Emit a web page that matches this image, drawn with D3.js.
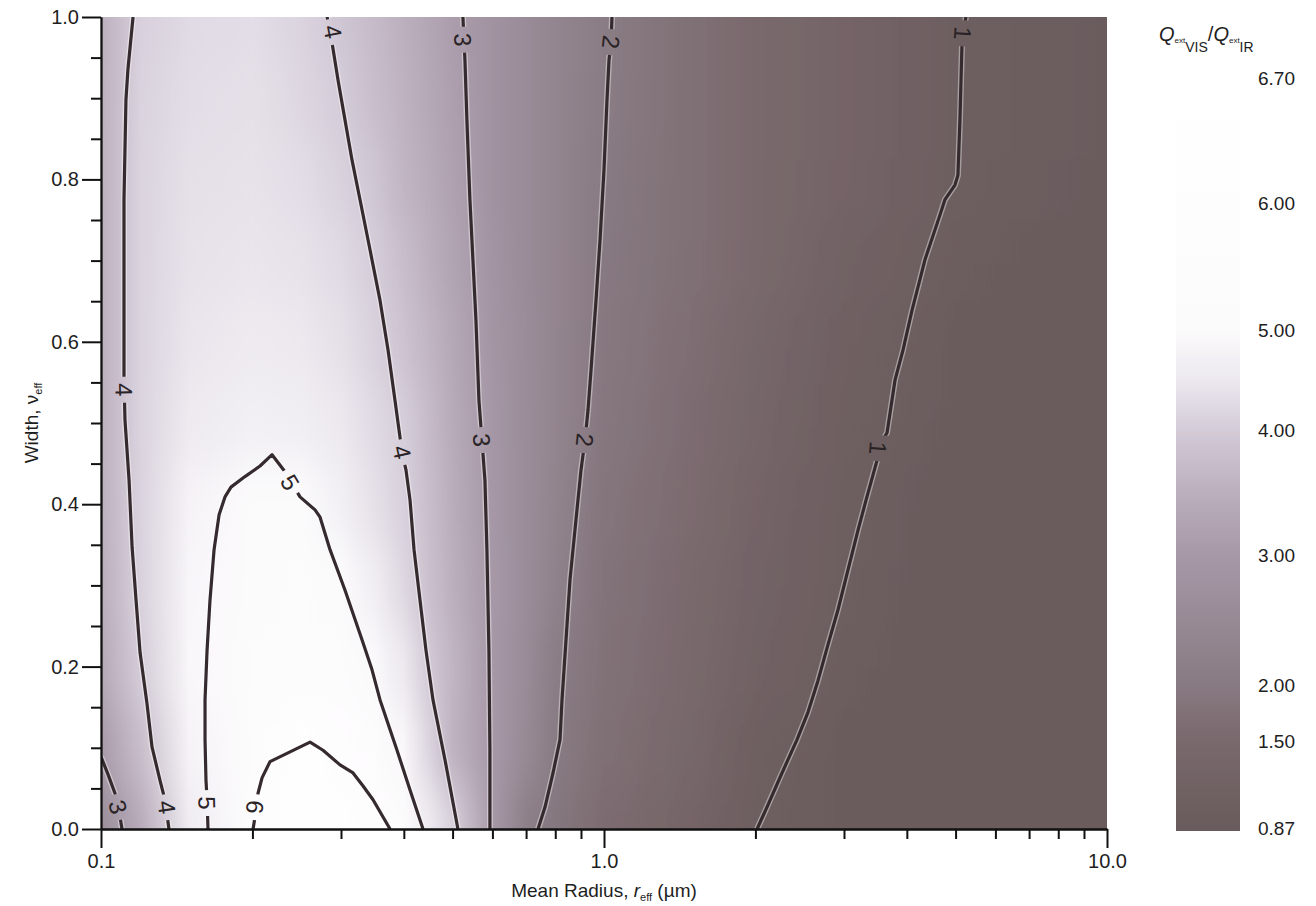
<!DOCTYPE html>
<html>
<head>
<meta charset="utf-8">
<script src="https://cdn.jsdelivr.net/npm/d3@7"></script>
<style>
  html, body { margin: 0; padding: 0; background: #ffffff; }
  svg { display: block; }
  text { font-family: "Liberation Sans", Arial, Helvetica, sans-serif; fill: #1e1e1e; }
</style>
</head>
<body>
<svg id="chart" width="1316" height="906"></svg>
<script>
// ---- Extinction ratio Q_ext(VIS)/Q_ext(IR) over effective radius and width ----

// Grid of the shaded field: rows are widths (v_eff), columns are radii (µm)
const rowV = [0, 0.1, 0.2, 0.3, 0.4, 0.5, 0.6, 0.7, 0.8, 0.9, 1.0];
const colR = [0.1, 0.12, 0.15, 0.2, 0.25, 0.3, 0.35, 0.4, 0.45, 0.5, 0.6, 0.7, 0.8, 1.0, 1.5, 2, 3, 5, 10];
const ratioGrid = [
  [2.6, 3.4, 4.6, 5.8, 6.3, 6.3, 6.0, 5.5, 4.55, 4.1, 3.0, 2.15, 1.9, 1.6, 1.3, 1.0, 0.92, 0.88, 0.87],
  [3.05, 3.75, 4.8, 5.6, 6.15, 5.95, 5.4, 4.9, 4.15, 3.55, 3.0, 2.5, 2.02, 1.7, 1.4, 1.05, 0.93, 0.88, 0.87],
  [3.35, 4.02, 4.9, 5.35, 5.5, 5.3, 4.95, 4.5, 3.95, 3.6, 3.0, 2.55, 2.1, 1.75, 1.45, 1.2, 0.96, 0.88, 0.87],
  [3.45, 4.1, 4.87, 5.2, 5.25, 5.05, 4.65, 4.2, 3.8, 3.5, 3.0, 2.6, 2.25, 1.8, 1.5, 1.25, 0.99, 0.88, 0.87],
  [3.5, 4.12, 4.8, 5.1, 5.0, 4.7, 4.35, 4.08, 3.75, 3.45, 2.95, 2.6, 2.3, 1.85, 1.55, 1.3, 1.02, 0.88, 0.87],
  [3.5, 4.15, 4.55, 4.7, 4.65, 4.5, 4.25, 4.03, 3.7, 3.4, 2.95, 2.6, 2.35, 1.92, 1.6, 1.35, 1.05, 0.9, 0.87],
  [3.5, 4.15, 4.45, 4.55, 4.5, 4.35, 4.1, 3.85, 3.6, 3.35, 2.9, 2.6, 2.35, 1.95, 1.65, 1.4, 1.1, 0.92, 0.88],
  [3.5, 4.15, 4.4, 4.45, 4.4, 4.25, 4.02, 3.75, 3.5, 3.25, 2.85, 2.55, 2.35, 1.97, 1.7, 1.5, 1.2, 0.95, 0.88],
  [3.5, 4.15, 4.35, 4.4, 4.3, 4.1, 3.9, 3.6, 3.4, 3.2, 2.8, 2.55, 2.35, 2.0, 1.7, 1.5, 1.3, 1.02, 0.9],
  [3.5, 4.12, 4.3, 4.35, 4.2, 4.0, 3.75, 3.55, 3.35, 3.15, 2.8, 2.55, 2.35, 2.05, 1.7, 1.5, 1.3, 1.03, 0.9],
  [3.5, 4.08, 4.25, 4.3, 4.15, 3.9, 3.7, 3.5, 3.3, 3.1, 2.8, 2.55, 2.35, 2.05, 1.7, 1.5, 1.3, 1.03, 0.9]
];

// Contour lines, [radius µm, width] pairs
const contour1 = [[5.2424,1.0],[5.1709,0.980],[5.1473,0.963],[5.1003,0.873],[5.0538,0.805],[4.9848,0.793],[4.7616,0.775],[4.6538,0.756],[4.3456,0.701],[4.0969,0.639],[3.9314,0.590],[3.7899,0.553],[3.6535,0.488],[3.5059,0.469],[3.4899,0.454],[3.3184,0.405],[3.1989,0.368],[3.0556,0.319],[2.9187,0.270],[2.7880,0.227],[2.6641,0.183],[2.5447,0.144],[2.4197,0.110],[2.2586,0.069],[2.1088,0.027],[2.0152,0]];
const contour2 = [[1.0373,1.0],[1.0326,0.969],[1.0232,0.947],[1.0138,0.898],[1.0,0.812],[0.9819,0.725],[0.9641,0.651],[0.9423,0.565],[0.9294,0.516],[0.9167,0.479],[0.9001,0.442],[0.8797,0.381],[0.8559,0.307],[0.8404,0.233],[0.8251,0.159],[0.8176,0.110],[0.7919,0.069],[0.7634,0.027],[0.7393,0]];
const contour3 = [[0.5242,1.0],[0.5291,0.947],[0.5339,0.873],[0.5413,0.775],[0.5488,0.701],[0.5564,0.627],[0.5641,0.528],[0.5719,0.479],[0.5798,0.430],[0.5851,0.344],[0.5905,0.220],[0.5932,0.097],[0.5932,0]];
const contour3Corner = [[0.1,0.089],[0.1033,0.067],[0.1066,0.044],[0.1081,0.030],[0.1101,0]];
const contour4Left = [[0.1158,1.0],[0.1131,0.935],[0.1121,0.898],[0.1111,0.775],[0.1111,0.652],[0.1111,0.553],[0.1116,0.504],[0.1137,0.430],[0.1153,0.347],[0.1174,0.282],[0.1196,0.217],[0.1234,0.155],[0.1263,0.101],[0.1310,0.060],[0.1340,0.036],[0.1365,0]];
const contour4 = [[0.2815,1.0],[0.2880,0.968],[0.2960,0.922],[0.3056,0.873],[0.3155,0.824],[0.3273,0.775],[0.3427,0.713],[0.3587,0.651],[0.3721,0.590],[0.3841,0.528],[0.3967,0.464],[0.4040,0.442],[0.4115,0.405],[0.4191,0.344],[0.4307,0.282],[0.4427,0.220],[0.4571,0.159],[0.4830,0.085],[0.5124,0]];
const contour5 = [[0.1632,0],[0.1625,0.036],[0.1617,0.060],[0.1610,0.110],[0.1610,0.159],[0.1625,0.220],[0.1647,0.282],[0.1678,0.344],[0.1717,0.387],[0.1764,0.409],[0.1813,0.421],[0.1933,0.434],[0.2071,0.447],[0.2188,0.461],[0.2322,0.440],[0.2487,0.409],[0.2664,0.393],[0.2726,0.384],[0.2853,0.344],[0.3056,0.294],[0.3303,0.233],[0.3458,0.196],[0.3587,0.159],[0.3877,0.097],[0.4115,0.048],[0.4367,0]];
const contour6 = [[0.2006,0],[0.2034,0.023],[0.2052,0.044],[0.2090,0.063],[0.2168,0.083],[0.2376,0.095],[0.2604,0.107],[0.2763,0.097],[0.2987,0.079],[0.3170,0.069],[0.3319,0.053],[0.3474,0.036],[0.3620,0.017],[0.3755,0]];

// Inline contour labels: level and position [radius, width]
const contourLabels = [
  {level: 1, r: 5.1709, v: 0.980}, {level: 1, r: 3.5059, v: 0.469},
  {level: 2, r: 1.0326, v: 0.969}, {level: 2, r: 0.9167, v: 0.479},
  {level: 3, r: 0.5242, v: 0.972}, {level: 3, r: 0.5719, v: 0.479}, {level: 3, r: 0.1081, v: 0.027},
  {level: 4, r: 0.2893, v: 0.982}, {level: 4, r: 0.3967, v: 0.464}, {level: 4, r: 0.1111, v: 0.541}, {level: 4, r: 0.1353, v: 0.027},
  {level: 5, r: 0.2376, v: 0.427}, {level: 5, r: 0.1625, v: 0.032},
  {level: 6, r: 0.2024, v: 0.027}
];

// Axis ticks
const xMajorTicks = [0.1, 1, 10];
const xMajorLabels = ["0.1", "1.0", "10.0"];
const xMinorTicks = [0.2, 0.3, 0.4, 0.5, 0.6, 0.7, 0.8, 0.9, 2, 3, 4, 5, 6, 7, 8, 9];
const yMajorTicks = [0, 0.2, 0.4, 0.6, 0.8, 1.0];
const yMinorTicks = [0.05, 0.1, 0.15, 0.25, 0.3, 0.35, 0.45, 0.5, 0.55, 0.65, 0.7, 0.75, 0.85, 0.9, 0.95];

// Colour bar labels
const barTicks = [0.87, 1.5, 2.0, 3.0, 4.0, 5.0, 6.0, 6.7];
const barTickLabels = ["0.87", "1.50", "2.00", "3.00", "4.00", "5.00", "6.00", "6.70"];

// Grey-mauve ramp of the shading
const rampValues = [0.87, 1.2, 1.5, 2.0, 2.5, 3.0, 3.5, 4.0, 4.5, 5.0, 6.7];
const rampColors = ["#6a5b5c", "#716264", "#79696d", "#887a82", "#978a95", "#a798a7", "#bbafbd", "#d4ccd8", "#ece8ef", "#fcfbfc", "#ffffff"];

// ---------------------------------------------------------------------------
const svg = d3.select("#chart");
const defs = svg.append("defs");

const x = d3.scaleLog().domain([0.1, 10]).range([101, 1107]);
const y = d3.scaleLinear().domain([0, 1]).range([829, 17]);
const color = d3.scaleLinear().domain(rampValues).range(rampColors).interpolate(d3.interpolateRgb).clamp(true);
const barY = d3.scaleLinear().domain(barTicks).range([828, 741, 685, 555, 430, 330, 203, 78]);

const plotW = x(10) - x(0.1), plotH = y(0) - y(1);

defs.append("clipPath").attr("id", "plotClip")
  .append("rect").attr("x", x(0.1)).attr("y", y(1)).attr("width", plotW).attr("height", plotH);

const blend = defs.append("filter").attr("id", "rowBlend")
  .attr("filterUnits", "userSpaceOnUse")
  .attr("x", 0).attr("y", -300).attr("width", 1316).attr("height", 1500);
blend.append("feGaussianBlur").attr("stdDeviation", "0 24");

// one horizontal gradient per grid row
rowV.forEach((v, i) => {
  const g = defs.append("linearGradient").attr("id", "row" + i)
    .attr("gradientUnits", "userSpaceOnUse")
    .attr("x1", x(0.1)).attr("x2", x(10)).attr("y1", 0).attr("y2", 0);
  colR.forEach((r, j) => {
    g.append("stop")
      .attr("offset", (x(r) - x(0.1)) / plotW)
      .attr("stop-color", color(ratioGrid[i][j]));
  });
});

// shaded field
const field = svg.append("g").attr("clip-path", "url(#plotClip)")
  .append("g").attr("filter", "url(#rowBlend)");
const half = 0.05;
rowV.forEach((v, i) => {
  const top = i === rowV.length - 1 ? y(1) - 150 : y(v + half) - 0.5;
  const bottom = i === 0 ? y(0) + 150 : y(v - half) + 0.5;
  field.append("rect")
    .attr("x", x(0.1)).attr("width", plotW)
    .attr("y", top).attr("height", bottom - top)
    .attr("fill", `url(#row${i})`);
});

// contour lines with gaps for their labels
const contourSets = [
  {level: 1, pts: contour1}, {level: 2, pts: contour2}, {level: 3, pts: contour3},
  {level: 3, pts: contour3Corner}, {level: 4, pts: contour4Left}, {level: 4, pts: contour4},
  {level: 5, pts: contour5}, {level: 6, pts: contour6}
];

function labelAngle(lab) {
  const px = x(lab.r), py = y(lab.v);
  let best = null, bestD = Infinity;
  contourSets.filter(c => c.level === lab.level).forEach(c => {
    for (let k = 0; k < c.pts.length - 1; k++) {
      const ax = x(c.pts[k][0]), ay = y(c.pts[k][1]);
      const bx = x(c.pts[k + 1][0]), by = y(c.pts[k + 1][1]);
      const mx = (ax + bx) / 2, my = (ay + by) / 2;
      const d = Math.hypot(mx - px, my - py);
      if (d < bestD) { bestD = d; best = [bx - ax, by - ay]; }
    }
  });
  let a = Math.atan2(best[1], best[0]) * 180 / Math.PI;
  if (a <= 0) a += 180;
  if (a > 180) a -= 180;
  return a;
}
contourLabels.forEach(l => { l.angle = labelAngle(l); });

const mask = defs.append("mask").attr("id", "labelGaps")
  .attr("maskUnits", "userSpaceOnUse").attr("x", 0).attr("y", 0).attr("width", 1316).attr("height", 906);
mask.append("rect").attr("x", 0).attr("y", 0).attr("width", 1316).attr("height", 906).attr("fill", "#fff");
contourLabels.forEach(l => {
  mask.append("rect")
    .attr("x", -13).attr("y", -11).attr("width", 26).attr("height", 22)
    .attr("fill", "#000")
    .attr("transform", `translate(${x(l.r)},${y(l.v)}) rotate(${l.angle})`);
});

const line = d3.line().x(d => x(d[0])).y(d => y(d[1]));
const lines = svg.append("g").attr("clip-path", "url(#plotClip)")
  .append("g").attr("mask", "url(#labelGaps)");
lines.selectAll("path.halo").data(contourSets).join("path")
  .attr("class", "halo")
  .attr("d", d => line(d.pts))
  .attr("fill", "none").attr("stroke", "#ffffff").attr("stroke-opacity", 0.4)
  .attr("stroke-width", 6).attr("stroke-linejoin", "round");
lines.selectAll("path.iso").data(contourSets).join("path")
  .attr("class", "iso")
  .attr("d", d => line(d.pts))
  .attr("fill", "none").attr("stroke", "#352a2d")
  .attr("stroke-width", 3.2).attr("stroke-linejoin", "round").attr("stroke-linecap", "butt");

svg.append("g").selectAll("text").data(contourLabels).join("text")
  .attr("transform", d => `translate(${x(d.r)},${y(d.v)}) rotate(${d.angle})`)
  .attr("text-anchor", "middle").attr("dy", "0.36em")
  .attr("font-size", 24).style("fill", "#2a2325")
  .text(d => d.level);

// axes
const axisStyle = g => {
  g.selectAll(".domain").attr("stroke", "#111").attr("stroke-width", 1.8);
  g.selectAll(".tick line").attr("stroke", "#111").attr("stroke-width", 2);
  g.selectAll(".tick text").attr("font-size", 20).style("fill", "#1e1e1e")
    .attr("font-family", "'Liberation Sans', Arial, sans-serif");
};

svg.append("g").attr("transform", `translate(0,${y(0)})`)
  .call(d3.axisBottom(x).tickValues(xMinorTicks).tickSize(10).tickSizeOuter(0).tickFormat(""))
  .call(axisStyle);
svg.append("g").attr("transform", `translate(0,${y(0)})`)
  .call(d3.axisBottom(x).tickValues(xMajorTicks).tickSize(19).tickSizeOuter(0).tickPadding(6)
    .tickFormat((d, i) => xMajorLabels[i]))
  .call(axisStyle);

svg.append("g").attr("transform", `translate(${x(0.1)},0)`)
  .call(d3.axisLeft(y).tickValues(yMinorTicks).tickSize(10).tickSizeOuter(0).tickFormat(""))
  .call(axisStyle);
svg.append("g").attr("transform", `translate(${x(0.1)},0)`)
  .call(d3.axisLeft(y).tickValues(yMajorTicks).tickSize(19).tickSizeOuter(0).tickPadding(3)
    .tickFormat(d3.format(".1f")))
  .call(axisStyle);

// axis titles
const xt = svg.append("text").attr("x", x(1)).attr("y", 897)
  .attr("text-anchor", "middle").attr("font-size", 19);
xt.append("tspan").text("Mean Radius, ");
xt.append("tspan").attr("font-style", "italic").text("r");
xt.append("tspan").attr("font-size", 11).attr("dy", 4).text("eff");
xt.append("tspan").attr("dy", -4).text(" (\u00b5m)");

const yt = svg.append("text")
  .attr("transform", `translate(38,${(y(0) + y(1)) / 2}) rotate(-90)`)
  .attr("text-anchor", "middle").attr("font-size", 19);
yt.append("tspan").text("Width, \u03bd");
yt.append("tspan").attr("font-size", 11).attr("dy", 4).text("eff");

// colour bar
const barX = 1176, barW = 64;
const barTop = barY(6.7) - 6, barBottom = barY(0.87) + 3;
const barGrad = defs.append("linearGradient").attr("id", "barGrad")
  .attr("gradientUnits", "userSpaceOnUse")
  .attr("x1", 0).attr("x2", 0).attr("y1", barBottom).attr("y2", barTop);
d3.range(0.87, 6.7001, 0.05).concat([6.7]).forEach(val => {
  barGrad.append("stop")
    .attr("offset", (barBottom - barY(val)) / (barBottom - barTop))
    .attr("stop-color", color(val));
});
svg.append("rect").attr("x", barX).attr("y", barTop).attr("width", barW)
  .attr("height", barBottom - barTop).attr("fill", "url(#barGrad)");

svg.append("g").selectAll("text").data(barTicks).join("text")
  .attr("x", 1258).attr("y", d => barY(d)).attr("dy", "0.36em")
  .attr("font-size", 19).text((d, i) => barTickLabels[i]);

const bt = svg.append("text").attr("x", 1159).attr("y", 41).attr("font-size", 20);
bt.append("tspan").attr("font-style", "italic").text("Q");
bt.append("tspan").attr("font-size", 8).attr("dy", 2).text("ext");
bt.append("tspan").attr("font-size", 14).attr("dy", 9).text("VIS");
bt.append("tspan").attr("dy", -11).text("/");
bt.append("tspan").attr("font-style", "italic").text("Q");
bt.append("tspan").attr("font-size", 8).attr("dy", 2).text("ext");
bt.append("tspan").attr("font-size", 14).attr("dy", 9).text("IR");
</script>
</body>
</html>
